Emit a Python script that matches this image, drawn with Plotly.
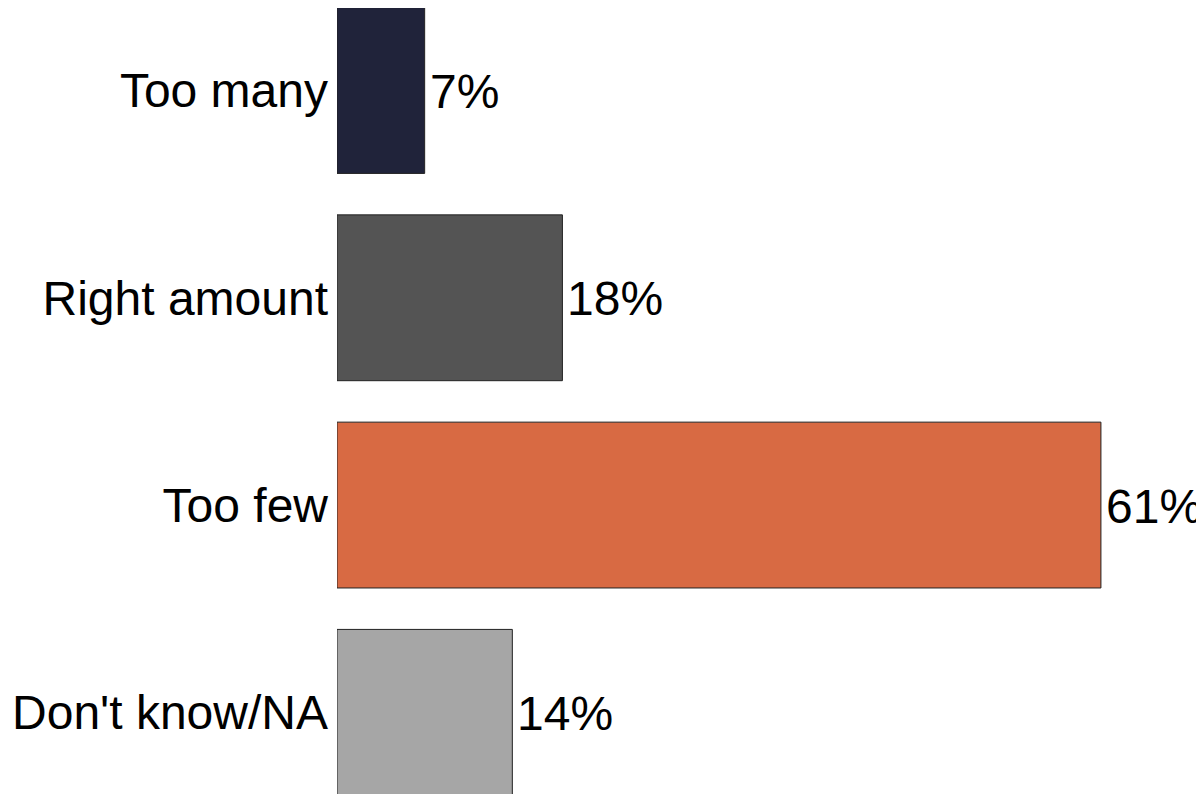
import plotly.graph_objects as go

categories = ["Too many", "Right amount", "Too few", "Don't know/NA"]
values = [7, 18, 61, 14]
labels = ["7%", "18%", "61%", "14%"]
colors = ["#20233A", "#545454", "#D86A43", "#A6A6A6"]

FONT = "Liberation Sans, Arial, sans-serif"

fig = go.Figure()
fig.add_trace(go.Bar(
    x=values,
    y=categories,
    orientation="h",
    width=0.8,
    marker=dict(color=colors, line=dict(color="#222222", width=1)),
    hoverinfo="skip",
))

for cat, val, lab in zip(categories, values, labels):
    fig.add_annotation(
        x=val, y=cat, text=lab, showarrow=False,
        xanchor="left", yanchor="middle", xshift=3, yshift=-1,
        font=dict(family=FONT, size=48, color="black"),
    )

fig.update_layout(
    width=1196, height=786,
    margin=dict(l=329, r=0, t=0, b=0, pad=0),
    plot_bgcolor="white", paper_bgcolor="white",
    showlegend=False,
    font=dict(family=FONT, size=48, color="black"),
    xaxis=dict(range=[0, 69.23], visible=False, showgrid=False, zeroline=False),
    yaxis=dict(
        categoryorder="array", categoryarray=categories,
        range=[3.394, -0.398],
        showgrid=False, zeroline=False, showline=False,
        ticks="", ticklabelstandoff=8,
        tickfont=dict(family=FONT, size=48, color="black"),
    ),
)

fig.write_html("out.html")
